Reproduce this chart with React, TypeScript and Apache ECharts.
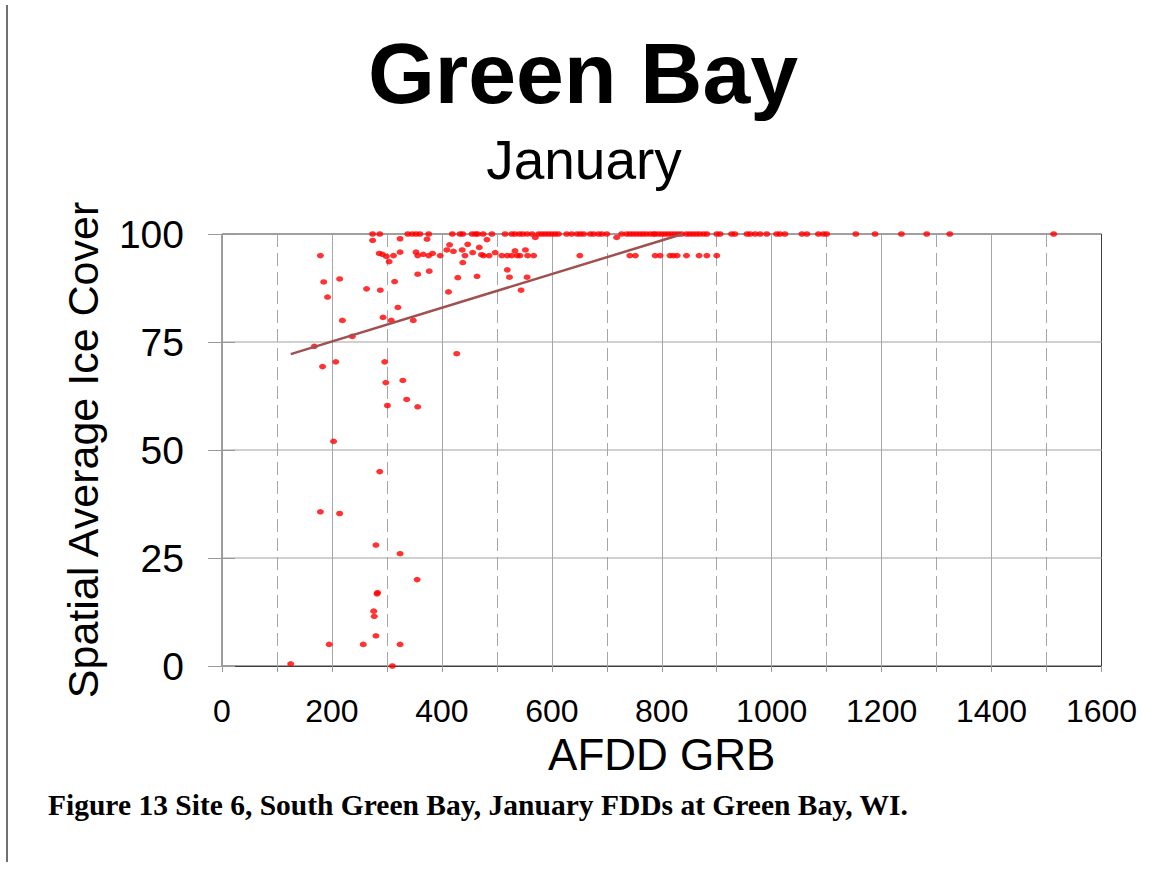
import React, { useEffect, useRef } from "react";
import * as echarts from "echarts";

// AFDD values of seasons with full (100 %) ice cover
const fullCoverAfdd = [
  274, 287, 338, 346, 353, 360, 376, 419, 433, 438, 455, 461, 465, 475, 491, 515, 527, 533,
  541, 547, 555, 564, 576, 582, 588, 594, 600, 606, 612, 627, 636, 646, 652, 658, 670, 676,
  685, 691, 700, 727, 736, 742, 748, 754, 760, 766, 772, 779, 785, 788, 794, 800, 806, 812,
  818, 824, 830, 836, 845, 851, 857, 863, 869, 876, 882, 900, 906, 927, 933, 955, 961, 970,
  979, 991, 1009, 1015, 1024, 1055, 1064, 1085, 1094, 1100, 1153, 1188, 1236, 1282, 1324, 1513,
];

// Near-full cover band (about 93-99 %)
const nearFullPoints: [number, number][] = [
  [179, 95], [286, 95.5], [292, 95.3], [299, 94.8], [312, 95], [324, 95.8], [353, 95.8],
  [356, 95], [366, 95.3], [376, 95], [383, 95.5], [397, 95], [409, 96.3], [414, 97.5],
  [421, 96], [437, 96.3], [447, 97.6], [442, 95], [456, 95.7], [468, 96.9], [472, 95.2],
  [476, 95], [486, 95], [497, 95.7], [509, 95], [519, 95], [527, 95], [533, 96.1], [537, 95],
  [542, 95], [552, 96.3], [556, 95], [567, 95], [651, 95], [742, 95], [752, 95], [788, 95],
  [797, 95], [815, 95], [821, 95], [828, 95], [845, 95], [868, 95], [882, 95], [900, 95],
  [274, 98.5], [324, 98.9], [373, 98.8], [482, 98.7], [570, 99.2], [718, 99.2],
  [304, 93.6], [438, 93.4],
];

// Partial cover seasons
const partialPoints: [number, number][] = [
  [125, 0.5], [310, 0], [195, 5], [257, 5], [324, 5], [280, 7], [277, 11.5], [276, 12.7],
  [282, 16.7], [283, 17], [355, 20], [324, 26], [280, 28], [214, 35.3], [179, 35.7],
  [287, 45], [203, 52], [356, 60], [301, 60.3], [336, 61.7], [298, 65.6], [329, 66.1],
  [183, 69.3], [207, 70.4], [296, 70.4], [427, 72.3], [168, 74], [237, 76.3], [219, 80],
  [293, 80.7], [308, 80], [348, 80], [320, 83], [412, 86.6], [263, 87.3], [288, 87],
  [544, 87], [192, 85.4], [185, 88.9], [214, 89.6], [314, 89], [356, 90.7], [377, 91.4],
  [429, 89.9], [464, 90.2], [519, 91.7], [523, 90], [555, 90],
];

// Linear trend line end points
const trendLine: [number, number][] = [
  [125, 72.2],
  [838, 100],
];

const xTicks = { min: 0, max: 1600, step: 200 };
const yTicks = { min: 0, max: 100, step: 25 };

const SANS = "'Liberation Sans', Arial, sans-serif";
const SERIF = "'Liberation Serif', 'Times New Roman', serif";

export default function App() {
  const ref = useRef<HTMLDivElement>(null);

  useEffect(() => {
    if (!ref.current) return;
    const chart = echarts.init(ref.current, undefined, { renderer: "svg" });

    const allPoints: [number, number][] = [
      ...fullCoverAfdd.map((x) => [x, 100] as [number, number]),
      ...nearFullPoints,
      ...partialPoints,
    ];

    chart.setOption({
      animation: false,
      backgroundColor: "#ffffff",
      grid: {
        left: 222,
        top: 234,
        right: 52.5,
        bottom: 208,
        show: true,
        borderColor: "#404040",
        borderWidth: 1,
        containLabel: false,
      },
      xAxis: {
        type: "value",
        min: xTicks.min,
        max: xTicks.max,
        interval: xTicks.step,
        name: "AFDD GRB",
        nameLocation: "middle",
        nameGap: 66,
        nameTextStyle: { fontSize: 44, fontFamily: SANS, color: "#000" },
        axisLine: { show: true, onZero: false, lineStyle: { color: "#404040", width: 1 } },
        axisTick: { show: true, length: 6, lineStyle: { color: "#999" } },
        minorTick: { show: true, splitNumber: 2, length: 6, lineStyle: { color: "#999" } },
        axisLabel: {
          fontSize: 32,
          fontFamily: SANS,
          color: "#000",
          margin: 29,
          formatter: (v: number) => String(v),
        },
        splitLine: {
          show: true,
          showMinLine: false,
          showMaxLine: false,
          lineStyle: { color: "#a6a6a6", width: 1 },
        },
        minorSplitLine: {
          show: true,
          lineStyle: { color: "#a6a6a6", width: 1, type: [13, 6] },
        },
      },
      yAxis: [
        {
          type: "value",
          min: yTicks.min,
          max: yTicks.max,
          interval: yTicks.step,
          name: "Spatial Average Ice Cover",
          nameLocation: "middle",
          nameGap: 118,
          nameTextStyle: { fontSize: 43, fontFamily: SANS, color: "#000" },
          axisLine: { show: true, lineStyle: { color: "#999", width: 1 } },
          axisTick: { show: true, length: 14, lineStyle: { color: "#999" } },
          axisLabel: { fontSize: 39, fontFamily: SANS, color: "#000", margin: 38 },
          splitLine: {
            show: true,
            showMinLine: false,
            showMaxLine: false,
            lineStyle: { color: "#c0c0c0", width: 1.5 },
          },
        },
        {
          type: "value",
          min: yTicks.min,
          max: yTicks.max,
          interval: yTicks.step,
          position: "left",
          axisLine: { show: false },
          axisTick: { show: true, inside: true, length: 13, lineStyle: { color: "#999" } },
          axisLabel: { show: false },
          splitLine: { show: false },
        },
      ],
      series: [
        {
          type: "scatter",
          data: allPoints,
          symbol: "circle",
          symbolSize: [7, 5.5],
          itemStyle: { color: "#ff0000" },
          z: 3,
        },
        {
          type: "line",
          data: trendLine,
          symbol: "none",
          lineStyle: { color: "#a05050", width: 2.5 },
          z: 4,
        },
      ],
      graphic: [
        {
          type: "line",
          shape: { x1: 7, y1: 5, x2: 7, y2: 862 },
          style: { stroke: "#404040", lineWidth: 1.5 },
        },
        {
          type: "text",
          x: 583,
          y: 73,
          style: {
            text: "Green Bay",
            fontSize: 86,
            fontWeight: "bold",
            fontFamily: SANS,
            fill: "#000",
            align: "center",
            verticalAlign: "middle",
          },
        },
        {
          type: "text",
          x: 584,
          y: 160,
          style: {
            text: "January",
            fontSize: 55,
            fontFamily: SANS,
            fill: "#000",
            align: "center",
            verticalAlign: "middle",
          },
        },
        {
          type: "text",
          x: 48,
          y: 805,
          style: {
            text: "Figure 13 Site 6, South Green Bay, January FDDs at Green Bay, WI.",
            fontSize: 29.5,
            fontWeight: "bold",
            fontFamily: SERIF,
            fill: "#000",
            align: "left",
            verticalAlign: "middle",
          },
        },
      ],
    });

    return () => chart.dispose();
  }, []);

  return (
    <div
      ref={ref}
      style={{ position: "absolute", left: 0, top: 0, width: 1154, height: 874, background: "#fff" }}
    />
  );
}
